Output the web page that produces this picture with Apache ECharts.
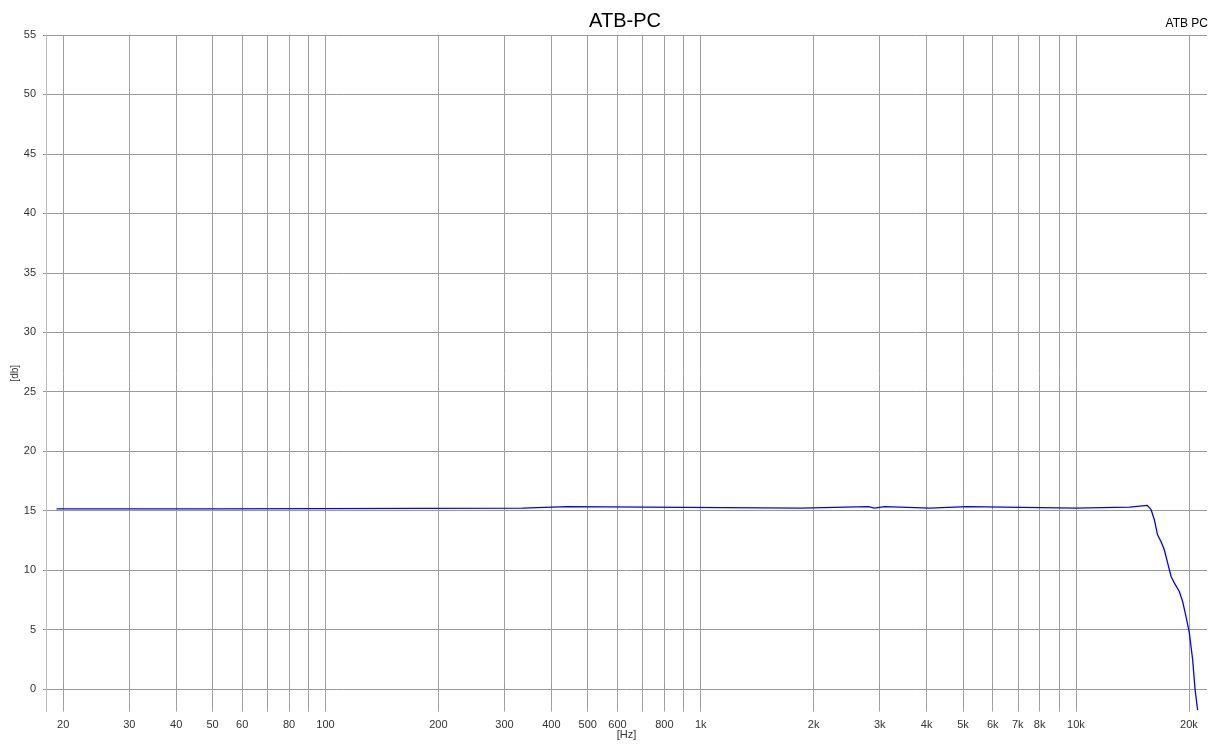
<!DOCTYPE html>
<html>
<head>
<meta charset="utf-8">
<script src="https://cdn.jsdelivr.net/npm/echarts@6/dist/echarts.min.js"></script>
<style>html,body{margin:0;padding:0;background:#fff}#c{width:1221px;height:745px}</style>
</head>
<body>
<div id="c"></div>
<script>
const title = 'ATB-PC';
const legendName = 'ATB PC';
const freq = [19.2, 51.3, 51.3, 335, 335, 441, 441, 1850, 1850, 2800, 2800, 2900, 2900, 3090, 3090, 4080, 4080, 5130, 5130, 10000, 10000, 13900, 13900, 15500, 15860, 16180, 16500, 16850, 17200, 17560, 17930, 18300, 18860, 19250, 19650, 20060, 20470, 20780, 21100];
const db = [15.15, 15.15, 15.22, 15.22, 15.33, 15.33, 15.22, 15.22, 15.33, 15.33, 15.22, 15.22, 15.33, 15.33, 15.22, 15.22, 15.33, 15.33, 15.22, 15.22, 15.3, 15.3, 15.44, 15.44, 15.08, 14.24, 12.97, 12.41, 11.71, 10.59, 9.46, 8.9, 8.2, 7.35, 6.09, 4.69, 2.44, -0.08, -1.77];
const xGrid = [20, 30, 40, 50, 60, 70, 80, 90, 100, 200, 300, 400, 500, 600, 700, 800, 900, 1000, 2000, 3000, 4000, 5000, 6000, 7000, 8000, 9000, 10000, 20000];
const xLabels = [20, 30, 40, 50, 60, 80, 100, 200, 300, 400, 500, 600, 800, 1000, 2000, 3000, 4000, 5000, 6000, 7000, 8000, 10000, 20000];
const yTicks = [0, 5, 10, 15, 20, 25, 30, 35, 40, 45, 50, 55];

const FONT = 'Liberation Sans, Arial, sans-serif';
const chart = echarts.init(document.getElementById('c'), null, {renderer: 'canvas'});
chart.setOption({
  animation: false,
  backgroundColor: '#fff',
  grid: {left: 46, right: 14, top: 35, bottom: 33.4, containLabel: false, outerBoundsMode: 'none'},
  graphic: [
    {type: 'text', x: 625, y: 21, style: {text: title, font: '20px ' + FONT, fill: '#000', textAlign: 'center', textVerticalAlign: 'middle'}},
    {type: 'text', x: 1208, y: 24, style: {text: legendName, font: '12px ' + FONT, fill: '#000', textAlign: 'right', textVerticalAlign: 'middle'}}
  ],
  xAxis: {
    type: 'log', logBase: 10, min: 18, max: 22350,
    name: '[Hz]', nameLocation: 'middle', nameGap: 18, nameMoveOverlap: false,
    nameTextStyle: {fontSize: 11, color: '#333', fontFamily: FONT},
    axisLine: {show: false},
    axisTick: {show: true, customValues: xGrid, length: 4, inside: true, lineStyle: {color: '#999'}},
    axisLabel: {customValues: xLabels, margin: 8, fontSize: 11, color: '#333', fontFamily: FONT,
      formatter: v => v >= 1000 ? (v / 1000) + 'k' : String(v)},
    splitLine: {show: true, lineStyle: {color: '#a0a0a0', width: 1}},
    minorSplitLine: {show: false}
  },
  yAxis: {
    type: 'value', min: -1.9, max: 55,
    name: '[db]', nameLocation: 'middle', nameGap: 26, nameRotate: 90, nameMoveOverlap: false,
    nameTextStyle: {fontSize: 10, color: '#333', fontFamily: FONT},
    axisLine: {show: true, lineStyle: {color: '#bbb'}},
    axisTick: {show: true, customValues: yTicks, length: 3, lineStyle: {color: '#999'}},
    axisLabel: {customValues: yTicks, margin: 10, fontSize: 11, color: '#333', fontFamily: FONT},
    splitLine: {show: true, lineStyle: {color: '#999', width: 1}}
  },
  series: [{
    name: legendName, type: 'line', showSymbol: false, symbol: 'none',
    data: freq.map((f, i) => [f, db[i]]),
    lineStyle: {color: '#0000ff', width: 1.3},
    clip: true
  }]
});
</script>
</body>
</html>
